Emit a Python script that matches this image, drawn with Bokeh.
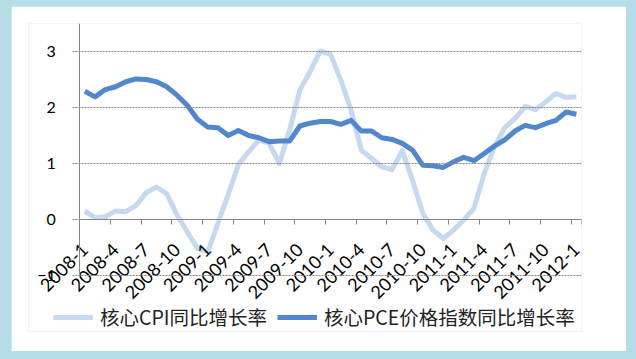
import numpy as np
from math import pi
from bokeh.plotting import figure
from bokeh.models import (Range1d, FixedTicker, Legend, LegendItem, ColumnDataSource, LinearAxis)
from bokeh.embed import file_html
from bokeh.resources import INLINE

months = ["2008-1","2008-2","2008-3","2008-4","2008-5","2008-6","2008-7","2008-8","2008-9","2008-10","2008-11","2008-12",
          "2009-1","2009-2","2009-3","2009-4","2009-5","2009-6","2009-7","2009-8","2009-9","2009-10","2009-11","2009-12",
          "2010-1","2010-2","2010-3","2010-4","2010-5","2010-6","2010-7","2010-8","2010-9","2010-10","2010-11","2010-12",
          "2011-1","2011-2","2011-3","2011-4","2011-5","2011-6","2011-7","2011-8","2011-9","2011-10","2011-11","2011-12",
          "2012-1"]
x_labels = ["2008-1","2008-4","2008-7","2008-10","2009-1","2009-4","2009-7","2009-10",
            "2010-1","2010-4","2010-7","2010-10","2011-1","2011-4","2011-7","2011-10","2012-1"]
core_cpi = [0.15, 0.03, 0.05, 0.15, 0.14, 0.25, 0.48, 0.58, 0.46, 0.08, -0.22, -0.52,
            -0.58, -0.07, 0.45, 0.98, 1.21, 1.42, 1.36, 1.00, 1.60, 2.31, 2.64, 3.01,
            2.95, 2.49, 1.95, 1.24, 1.09, 0.94, 0.89, 1.23, 0.70, 0.11, -0.19, -0.34,
            -0.19, -0.01, 0.20, 0.82, 1.30, 1.64, 1.80, 2.02, 1.96, 2.10, 2.25, 2.18,
            2.19]
core_pce = [2.29, 2.19, 2.32, 2.37, 2.46, 2.51, 2.50, 2.46, 2.37, 2.22, 2.04, 1.79,
            1.65, 1.64, 1.50, 1.59, 1.50, 1.46, 1.39, 1.40, 1.40, 1.67, 1.72, 1.75,
            1.75, 1.70, 1.77, 1.58, 1.58, 1.46, 1.43, 1.36, 1.24, 0.97, 0.96, 0.93,
            1.03, 1.11, 1.05, 1.18, 1.31, 1.42, 1.58, 1.68, 1.64, 1.71, 1.77, 1.92,
            1.88]
y_ticks = [-1, 0, 1, 2, 3]
names = ["核心CPI同比增长率", "核心PCE价格指数同比增长率"]

n = len(months)
xc = np.arange(n) + 0.5
src = ColumnDataSource(dict(x=xc, cpi=core_cpi, pce=core_pce, m=months))

BG = "#B7DDE8"
GRID = "#868686"

# frame: 553 px wide covering x from -5 to 49 (plot area of the chart is 0..49)
p = figure(width=615, height=345, output_backend="svg", toolbar_location=None,
           x_range=Range1d(-5, n), y_range=Range1d(-2.0, 3.5),
           x_axis_location=None, y_axis_location=None,
           min_border_left=17, min_border_right=45, min_border_top=17, min_border_bottom=20)
p.background_fill_color = "white"
p.border_fill_color = "white"
p.outline_line_color = None
p.xgrid.visible = False
p.ygrid.visible = False

PX = 553 / (n + 5)  # pixels per category

# y axis at x = 0; its long dashed ticks act as the horizontal gridlines
ya = LinearAxis(fixed_location=0, bounds=(-1, 3.5), ticker=FixedTicker(ticks=y_ticks))
ya.axis_line_color = GRID
ya.major_tick_line_color = GRID
ya.major_tick_line_dash = "2 1"
ya.major_tick_out = 7
ya.major_tick_in = int(round(n * PX))
ya.minor_tick_line_color = None
ya.major_label_standoff = 17
ya.major_label_text_font = "Lato"
ya.major_label_text_font_size = "16px"
ya.major_label_text_color = "#000000"
p.add_layout(ya, "left")

# x axis at y = 0: labels at every 3rd category, tick marks between categories
lab_x = [float(xc[months.index(l)]) for l in x_labels]
xa = LinearAxis(fixed_location=0, bounds=(0, n),
                ticker=FixedTicker(ticks=lab_x, minor_ticks=list(range(0, n, 3)) + [n]),
                major_label_overrides={t: l for t, l in zip(lab_x, x_labels)},
                major_label_orientation=pi / 4)
xa.axis_line_color = GRID
xa.major_tick_line_color = None
xa.major_tick_out = 0
xa.major_tick_in = 0
xa.minor_tick_line_color = GRID
xa.minor_tick_out = 5
xa.minor_tick_in = 0
xa.major_label_standoff = 22
xa.major_label_text_font = "Lato"
xa.major_label_text_font_size = "18px"
xa.major_label_text_color = "#000000"
p.add_layout(xa, "below")

r1 = p.line("x", "cpi", source=src, line_color="#C6D9F0", line_width=5, line_join="round")
r2 = p.line("x", "pce", source=src, line_color="#5287D0", line_width=5, line_join="round")

legend = Legend(items=[LegendItem(label=names[0], renderers=[r1]),
                       LegendItem(label=names[1], renderers=[r2])],
                orientation="horizontal", location=(25, 0),
                label_text_font="Noto Sans CJK SC", label_text_font_size="19.5px",
                label_text_color="#222222",
                glyph_width=40, glyph_height=20, label_standoff=7, spacing=10,
                padding=0, margin=0, border_line_color=None, background_fill_alpha=0)
p.add_layout(legend)

html = file_html(p, INLINE)
css = ("<style>html, body {margin:0 !important; padding:0 !important; background:%s !important;}"
       " body {padding:6px 0 0 11px !important;}</style>" % BG)
html = html.replace("</head>", css + "</head>", 1)
open("out.html", "w").write(html)
